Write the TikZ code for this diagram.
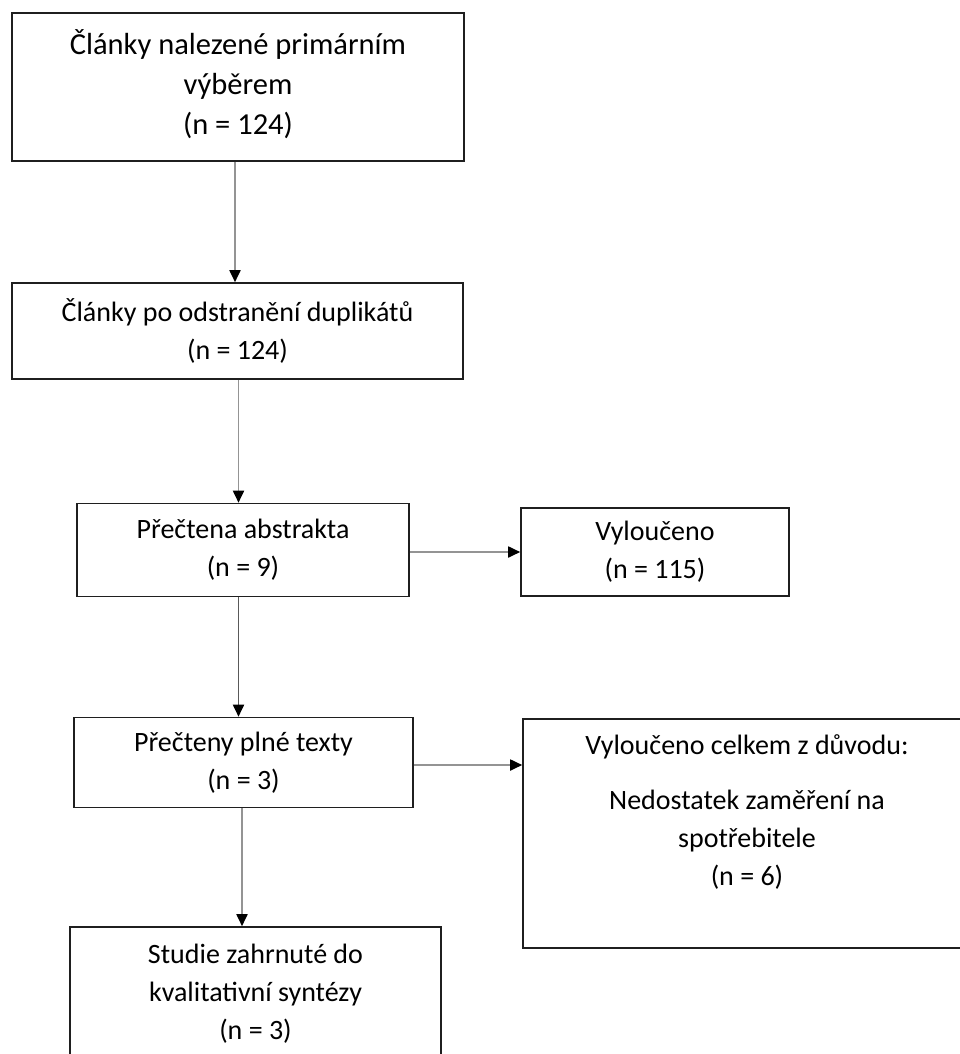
\documentclass[tikz,border=0pt]{standalone}
\usepackage{fontspec}
\setmainfont{Carlito}
\usetikzlibrary{arrows.meta}
\begin{document}
\begin{tikzpicture}[x=1pt,y=-1pt,
  box/.style={draw=black!88, line width=1.6pt, rectangle, inner sep=0pt, align=center, font=\fontsize{28}{38}\selectfont},
  txt/.style={inner sep=0pt, align=center, font=\fontsize{28}{38}\selectfont},
  bigtxt/.style={txt, font=\fontsize{30.5}{40}\selectfont},
  arr/.style={draw=black!42, line width=1.8pt, -{Triangle[length=12pt,width=11pt,color=black]}},
  arrdark/.style={arr, draw=black!65}
]
\useasboundingbox (0,0) rectangle (959,1054);
\fill[white] (0,0) rectangle (959,1054);

\node[box, minimum width=452pt, minimum height=148pt] (b1) at (238,87) {};
\node[bigtxt] (b1txt) at (238,84) {Články nalezené primárním\\výběrem\\(n = 124)};
\node[box, minimum width=451pt, minimum height=96pt] (b2) at (237.5,331) {Články po odstranění duplikátů\\(n = 124)};
\node[box, minimum width=332pt, minimum height=93pt] (b3) at (243,550) {Přečtena abstrakta\\(n = 9)};
\node[box, minimum width=268pt, minimum height=88pt] (ex1) at (655,552) {Vyloučeno\\(n = 115)};
\node[box, minimum width=339pt, minimum height=90pt] (b4) at (243.5,762.5) {Přečteny plné texty\\(n = 3)};
\node[box, minimum width=448pt, minimum height=229pt] (ex2) at (747,833.5) {};
\node[txt] (ex2txt) at (747,812) {Vyloučeno celkem z důvodu:\\[17pt]Nedostatek zaměření na\\spotřebitele\\(n = 6)};
\node[box, minimum width=371pt, minimum height=134pt] (b5) at (255.5,994) {Studie zahrnuté do\\kvalitativní syntézy\\(n = 3)};

\draw[arr] ([xshift=-3pt]b1.south) -- ([xshift=-3pt]b1.south |- b2.north);
\draw[arr] ([xshift=1pt]b2.south) -- ([xshift=1pt]b2.south |- b3.north);
\draw[arrdark] ([xshift=-4.5pt]b3.south) -- ([xshift=-4.5pt]b3.south |- b4.north);
\draw[arr] ([xshift=-1.5pt]b4.south) -- ([xshift=-1.5pt]b4.south |- b5.north);
\draw[arr] (b3.east |- ex1.west) -- (ex1.west);
\draw[arr] ([yshift=-2.5pt]b4.east) -- ([yshift=-2.5pt]b4.east -| ex2.west);
\end{tikzpicture}
\end{document}
